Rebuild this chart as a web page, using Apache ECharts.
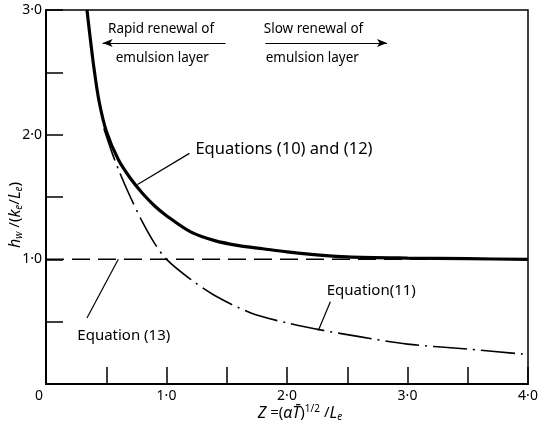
<!DOCTYPE html>
<html><head><meta charset="utf-8">
<script src="https://cdn.jsdelivr.net/npm/echarts@6/dist/echarts.min.js"></script>
<style>html,body{margin:0;padding:0;background:#fff}#c{width:541px;height:428px}</style>
</head><body><div id="c"></div>
<script>
// Equations (10) and (12): thick solid curve
const eq10_12 = [[0.34,3.0],[0.37,2.75],[0.40,2.52],[0.44,2.27],[0.50,2.03],[0.60,1.80],[0.70,1.65],[0.80,1.53],[0.90,1.43],[1.00,1.35],[1.20,1.22],[1.40,1.15],[1.60,1.11],[1.80,1.085],[2.00,1.06],[2.20,1.04],[2.50,1.02],[3.00,1.01],[3.50,1.005],[4.00,1.0]];
// Equation (11): dash-dot curve
const eq11 = [[0.48,2.05],[0.55,1.85],[0.61,1.70],[0.70,1.50],[0.80,1.30],[0.90,1.13],[1.00,1.00],[1.20,0.84],[1.40,0.71],[1.70,0.57],[2.00,0.49],[2.30,0.43],[2.60,0.38],[3.00,0.32],[3.50,0.28],[3.96,0.24]];
// Equation (13): dashed asymptote
const eq13 = [[0,1.0],[4,1.0]];
const xLabelValues = [0,1,2,3,4];
const yLabelValues = [1,2,3];

const fmt = v => v.toFixed(1).replace('.', '\u00b7');
const chart = echarts.init(document.getElementById('c'));
const FONT = 'Noto Sans';
chart.setOption({
  animation: false,
  backgroundColor: '#fff',
  textStyle: {fontFamily: FONT, color: '#000'},
  grid: {left: 46, top: 10, right: 13, bottom: 44, show: true, borderColor: '#000', borderWidth: 1.5,
         containLabel: false, outerBoundsMode: 'none'},
  xAxis: {
    type: 'value', min: 0, max: 4, interval: 0.5,
    axisLine: {lineStyle: {color: '#000', width: 2}},
    axisTick: {inside: true, length: 17, lineStyle: {color: '#000', width: 1.5}},
    splitLine: {show: false},
    axisLabel: {
      color: '#000', fontSize: 14, margin: 5,
      formatter: v => xLabelValues.includes(v) ? (v === 0 ? '{z|0}' : fmt(v)) : '',
      rich: {z: {fontSize: 14, padding: [0, 14, 0, 0], color: '#000'}}
    },
    name: '{i|Z} =({i|\u03b1T\u0304}){s|1/2} /{i|L}{b|e}',
    nameLocation: 'middle', nameGap: 20, nameMoveOverlap: false,
    nameTextStyle: {
      fontSize: 15, color: '#000', padding: [0, 0, 0, 26],
      rich: {
        i: {fontStyle: 'italic', fontSize: 16, color: '#000'},
        s: {fontSize: 10, verticalAlign: 'top', padding: [0,0,8,0], color: '#000'},
        b: {fontSize: 10, fontStyle: 'italic', padding: [8,0,0,0], color: '#000'}
      }
    }
  },
  yAxis: {
    type: 'value', min: 0, max: 3, interval: 0.5,
    axisLine: {show: true, lineStyle: {color: '#000', width: 2}},
    axisTick: {show: true, inside: true, length: 17, lineStyle: {color: '#000', width: 1.5}},
    splitLine: {show: false},
    axisLabel: {
      color: '#000', fontSize: 14, margin: 4,
      formatter: v => yLabelValues.includes(v) ? fmt(v) : ''
    },
    name: '{i|h}{b|w} /({i|k}{b|e}/{i|L}{b|e})',
    nameLocation: 'middle', nameGap: 22, nameRotate: 90, nameMoveOverlap: false,
    nameTextStyle: {
      fontSize: 15, color: '#000', padding: [0, 36, 0, 0],
      rich: {
        i: {fontStyle: 'italic', fontSize: 16, color: '#000'},
        b: {fontSize: 10, fontStyle: 'italic', padding: [8,0,0,0], color: '#000'}
      }
    }
  },
  series: [
    {name: 'Equations (10) and (12)', type: 'line', data: eq10_12, smooth: 0.3, showSymbol: false,
     lineStyle: {color: '#000', width: 3.2}, z: 5},
    {name: 'Equation (11)', type: 'line', data: eq11, smooth: 0.3, showSymbol: false,
     lineStyle: {color: '#000', width: 1.6, type: [34, 6, 2, 6]}},
    {name: 'Equation (13)', type: 'line', data: eq13, showSymbol: false,
     lineStyle: {color: '#000', width: 1.5, type: [18, 8]},
     markLine: {
       silent: true, animation: false,
       label: {show: false},
       lineStyle: {color: '#000', width: 1.2, type: 'solid'},
       symbol: ['none', 'none'],
       data: [
         [{coord: [1.49, 2.735], symbol: 'none'}, {coord: [0.47, 2.735], symbol: 'arrow', symbolSize: [6, 10]}],
         [{coord: [1.82, 2.735], symbol: 'none'}, {coord: [2.83, 2.735], symbol: 'arrow', symbolSize: [6, 10]}],
         [{coord: [1.19, 1.85]}, {coord: [0.76, 1.60]}],
         [{coord: [2.36, 0.66]}, {coord: [2.26, 0.43]}],
         [{coord: [0.34, 0.53]}, {coord: [0.60, 1.0]}]
       ]
     }}
  ]
});

const annotations = [
  {t: 'Rapid renewal of', x: 0.955, y: 2.85, align: 'center', size: 13.5},
  {t: 'emulsion layer', x: 0.965, y: 2.61, align: 'center', size: 13.5},
  {t: 'Slow renewal of', x: 2.22, y: 2.85, align: 'center', size: 13.5},
  {t: 'emulsion layer', x: 2.21, y: 2.61, align: 'center', size: 13.5},
  {t: 'Equations (10) and (12)', x: 1.24, y: 1.88, align: 'left', size: 16.5},
  {t: 'Equation(11)', x: 2.33, y: 0.75, align: 'left', size: 15},
  {t: 'Equation (13)', x: 0.26, y: 0.39, align: 'left', size: 15}
];
chart.setOption({
  graphic: annotations.map(a => {
    const p = chart.convertToPixel({gridIndex: 0}, [a.x, a.y]);
    return {type: 'text', x: p[0], y: p[1], z: 10,
      style: {text: a.t, fontFamily: FONT, fontSize: a.size, fill: '#000', align: a.align, verticalAlign: 'middle'}};
  })
});
</script></body></html>
